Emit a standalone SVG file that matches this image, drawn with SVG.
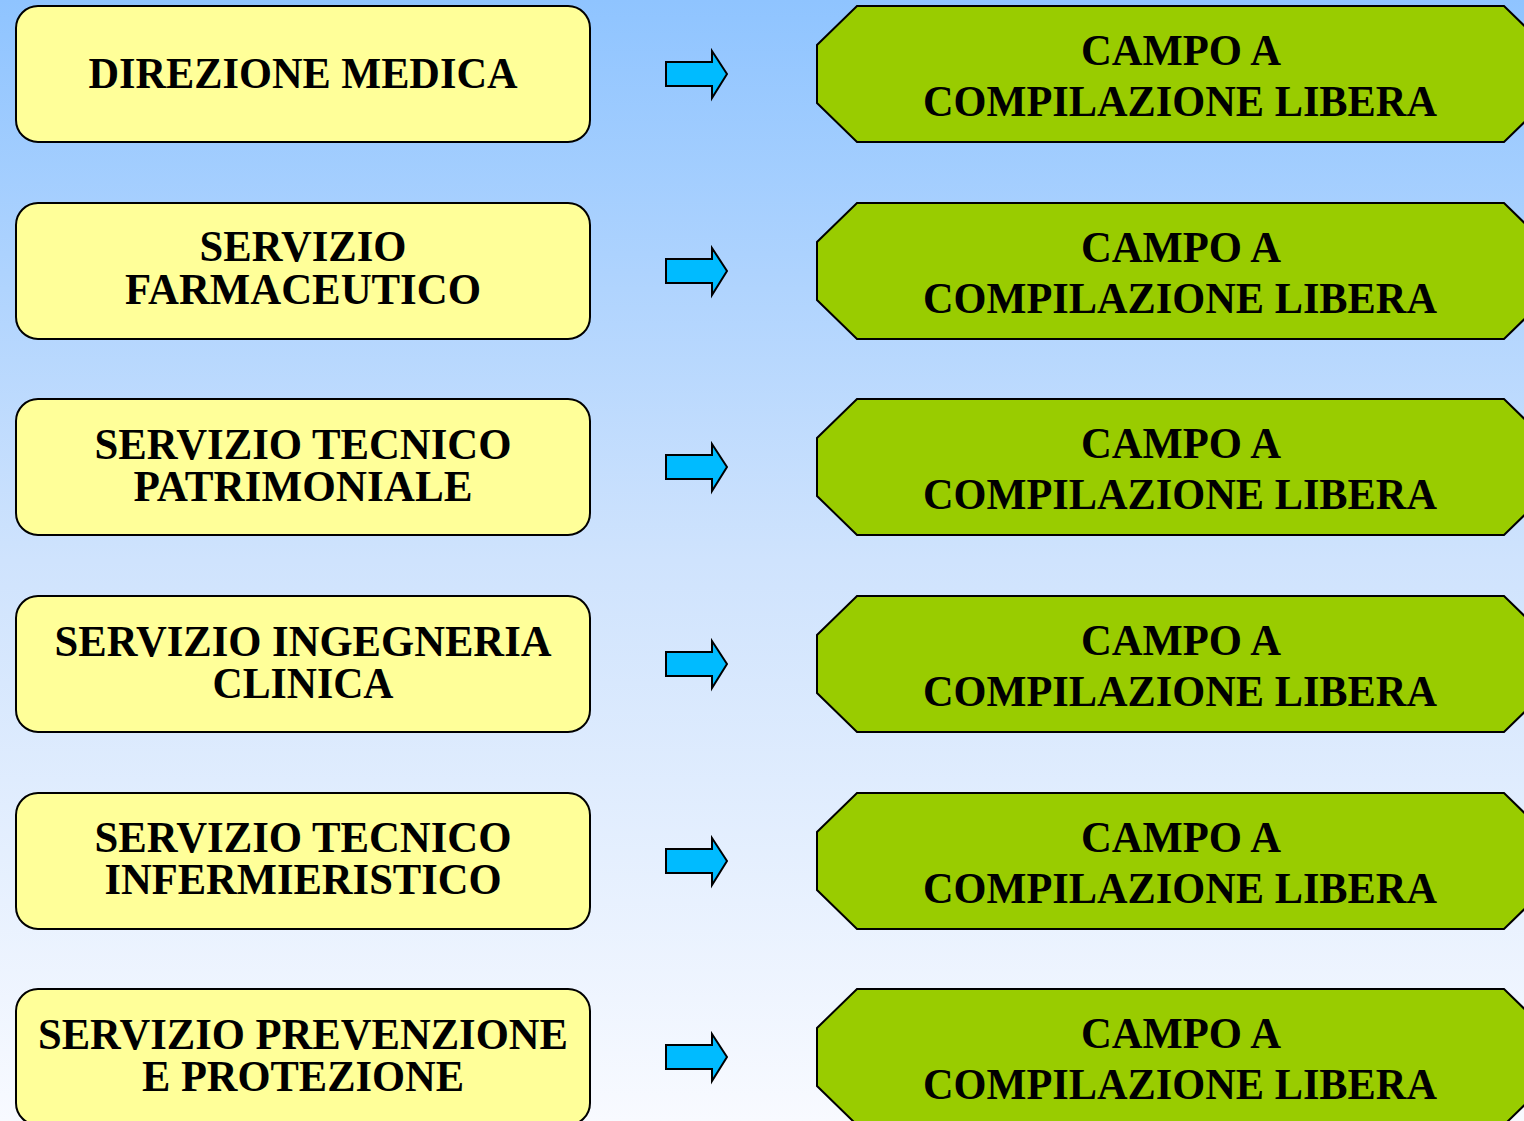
<svg xmlns="http://www.w3.org/2000/svg" width="1524" height="1121" viewBox="0 0 1524 1121">
<defs>
<linearGradient id="bg" x1="0" y1="0" x2="0" y2="1">
<stop offset="0" stop-color="#8FC4FF"/>
<stop offset="0.5" stop-color="#CFE3FD"/>
<stop offset="1" stop-color="#F8FAFF"/>
</linearGradient>
<rect id="ybox" x="16" y="0" width="574" height="136" rx="22" ry="22"/>
<polygon id="oct" points="857,0 1504,0 1544,39 1544,97 1504,136 857,136 817,97 817,39"/>
<polygon id="arr" points="666,56 712,56 712,45 727,68 712,92 712,80 666,80"/>
</defs>
<style>
.y{fill:#FFFF99;stroke:#000;stroke-width:2}
.g{fill:#99CC00;stroke:#000;stroke-width:2}
.a{fill:#00BBFF;stroke:#000;stroke-width:2;stroke-linejoin:miter}
text{font-family:"Liberation Serif","Times New Roman",serif;font-weight:bold;font-size:45px;fill:#000;text-anchor:middle}
</style>
<rect width="1524" height="1121" fill="url(#bg)"/>
<g id="connectors">
<use href="#arr" class="a" y="6"/>
<use href="#arr" class="a" y="203"/>
<use href="#arr" class="a" y="399"/>
<use href="#arr" class="a" y="596"/>
<use href="#arr" class="a" y="793"/>
<use href="#arr" class="a" y="989"/>
</g>
<g id="n1"><use href="#ybox" class="y" y="6"/><text x="303" y="88" textLength="429" lengthAdjust="spacingAndGlyphs">DIREZIONE MEDICA</text></g>
<g id="n2"><use href="#ybox" class="y" y="203"/><text x="303" y="261" textLength="207" lengthAdjust="spacingAndGlyphs">SERVIZIO</text><text x="303" y="304" textLength="356" lengthAdjust="spacingAndGlyphs">FARMACEUTICO</text></g>
<g id="n3"><use href="#ybox" class="y" y="399"/><text x="303" y="459" textLength="417" lengthAdjust="spacingAndGlyphs">SERVIZIO TECNICO</text><text x="303" y="501" textLength="339" lengthAdjust="spacingAndGlyphs">PATRIMONIALE</text></g>
<g id="n4"><use href="#ybox" class="y" y="596"/><text x="303" y="656" textLength="497" lengthAdjust="spacingAndGlyphs">SERVIZIO INGEGNERIA</text><text x="303" y="698" textLength="181" lengthAdjust="spacingAndGlyphs">CLINICA</text></g>
<g id="n5"><use href="#ybox" class="y" y="793"/><text x="303" y="852" textLength="417" lengthAdjust="spacingAndGlyphs">SERVIZIO TECNICO</text><text x="303" y="894" textLength="397" lengthAdjust="spacingAndGlyphs">INFERMIERISTICO</text></g>
<g id="n6"><use href="#ybox" class="y" y="989"/><text x="303" y="1049" textLength="530" lengthAdjust="spacingAndGlyphs">SERVIZIO PREVENZIONE</text><text x="303" y="1091" textLength="322" lengthAdjust="spacingAndGlyphs">E PROTEZIONE</text></g>
<g id="c1"><use href="#oct" class="g" y="6"/><text x="1181" y="65" textLength="200" lengthAdjust="spacingAndGlyphs">CAMPO A</text><text x="1180" y="116" textLength="514" lengthAdjust="spacingAndGlyphs">COMPILAZIONE LIBERA</text></g>
<g id="c2"><use href="#oct" class="g" y="203"/><text x="1181" y="262" textLength="200" lengthAdjust="spacingAndGlyphs">CAMPO A</text><text x="1180" y="313" textLength="514" lengthAdjust="spacingAndGlyphs">COMPILAZIONE LIBERA</text></g>
<g id="c3"><use href="#oct" class="g" y="399"/><text x="1181" y="458" textLength="200" lengthAdjust="spacingAndGlyphs">CAMPO A</text><text x="1180" y="509" textLength="514" lengthAdjust="spacingAndGlyphs">COMPILAZIONE LIBERA</text></g>
<g id="c4"><use href="#oct" class="g" y="596"/><text x="1181" y="655" textLength="200" lengthAdjust="spacingAndGlyphs">CAMPO A</text><text x="1180" y="706" textLength="514" lengthAdjust="spacingAndGlyphs">COMPILAZIONE LIBERA</text></g>
<g id="c5"><use href="#oct" class="g" y="793"/><text x="1181" y="852" textLength="200" lengthAdjust="spacingAndGlyphs">CAMPO A</text><text x="1180" y="903" textLength="514" lengthAdjust="spacingAndGlyphs">COMPILAZIONE LIBERA</text></g>
<g id="c6"><use href="#oct" class="g" y="989"/><text x="1181" y="1048" textLength="200" lengthAdjust="spacingAndGlyphs">CAMPO A</text><text x="1180" y="1099" textLength="514" lengthAdjust="spacingAndGlyphs">COMPILAZIONE LIBERA</text></g>
</svg>
